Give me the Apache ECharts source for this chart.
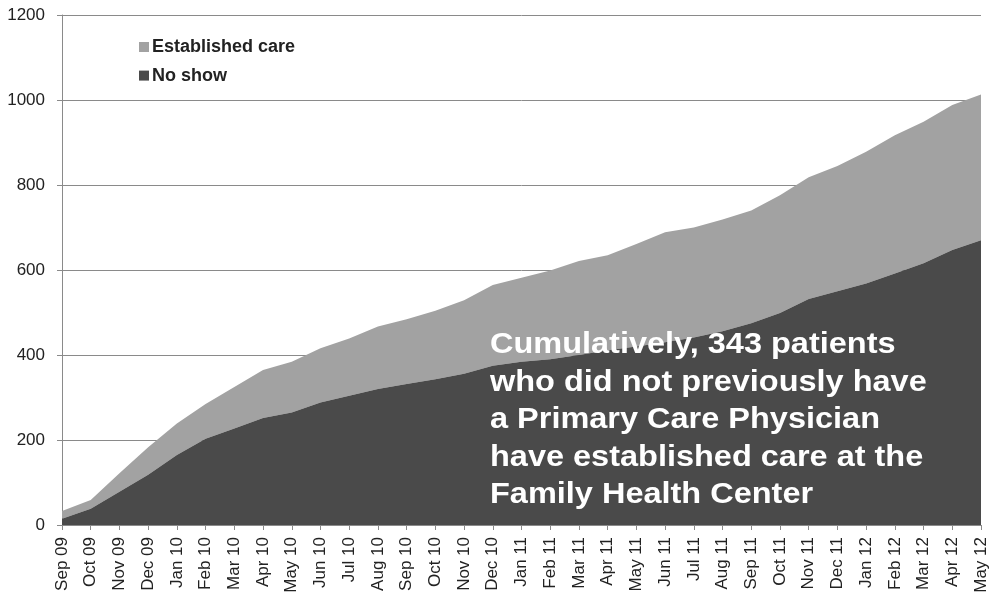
<!DOCTYPE html>
<html>
<head>
<meta charset="utf-8">
<script src="https://cdn.jsdelivr.net/npm/echarts@6/dist/echarts.min.js"></script>
<style>
html,body{margin:0;padding:0;background:#fff;}
#chart{width:996px;height:597px;}
</style>
</head>
<body>
<div id="chart"></div>
<script>
var months = ['Sep 09','Oct 09','Nov 09','Dec 09','Jan 10','Feb 10','Mar 10','Apr 10','May 10','Jun 10','Jul 10','Aug 10','Sep 10','Oct 10','Nov 10','Dec 10','Jan 11','Feb 11','Mar 11','Apr 11','May 11','Jun 11','Jul 11','Aug 11','Sep 11','Oct 11','Nov 11','Dec 11','Jan 12','Feb 12','Mar 12','Apr 12','May 12'];
var noShow = [15,38,78,118,165,203,227,252,265,288,304,320,332,343,356,375,384,390,400,411,420,430,441,456,475,499,532,550,568,592,616,647,670];
var establishedCare = [18,21,44,65,74,82,98,113,119,128,135,147,152,161,173,190,198,209,221,224,241,259,259,263,265,277,286,295,310,325,333,341,343];
var yTicks = [0,200,400,600,800,1000,1200];
var annotation = ['Cumulatively, 343 patients','who did not previously have','a Primary Care Physician','have established care at the','Family Health Center'];

var FONT = '"Liberation Sans", Arial, sans-serif';
var chart = echarts.init(document.getElementById('chart'), null, {renderer:'canvas'});
chart.setOption({
  animation:false,
  backgroundColor:'#ffffff',
  grid:{left:62,right:15,top:15,bottom:72,containLabel:false},
  legend:{
    orient:'vertical',left:139,top:38,padding:0,
    data:['Established care','No show'],
    icon:'rect',itemWidth:10,itemHeight:10,itemGap:10.6,
    textStyle:{fontFamily:FONT,fontWeight:'bold',fontSize:18,color:'#222',lineHeight:18,padding:[0,0,0,-2]}
  },
  xAxis:{
    type:'category',data:months,boundaryGap:false,
    axisLine:{lineStyle:{color:'#8a8a8a',width:1}},
    axisTick:{show:true,length:5,alignWithLabel:true,lineStyle:{color:'#8a8a8a'}},
    axisLabel:{rotate:90,interval:0,margin:12,fontFamily:FONT,fontSize:17,color:'#222'},
    splitLine:{show:false}
  },
  yAxis:{
    type:'value',min:yTicks[0],max:yTicks[yTicks.length-1],interval:200,
    axisLine:{show:true,lineStyle:{color:'#8a8a8a',width:1}},
    axisTick:{show:true,length:5,lineStyle:{color:'#8a8a8a'}},
    axisLabel:{margin:17,fontFamily:FONT,fontSize:17,color:'#222',formatter:function(v){return String(v);}},
    splitLine:{show:true,lineStyle:{color:'#8a8a8a',width:1}}
  },
  series:[
    {name:'No show',type:'line',stack:'total',data:noShow,symbol:'none',
     lineStyle:{width:0},itemStyle:{color:'#4a4a4a'},areaStyle:{color:'#4a4a4a',opacity:1},z:2},
    {name:'Established care',type:'line',stack:'total',data:establishedCare,symbol:'none',
     lineStyle:{width:0},itemStyle:{color:'#a2a2a2'},areaStyle:{color:'#a2a2a2',opacity:1},z:1}
  ],
  graphic:[{
    type:'text',x:490,y:326.5,scaleX:1.12,scaleY:1,z:100,
    style:{text:annotation.join('\n'),fill:'#ffffff',font:'bold 29px '+FONT,lineHeight:37.5,verticalAlign:'top'}
  }]
});
</script>
</body>
</html>
